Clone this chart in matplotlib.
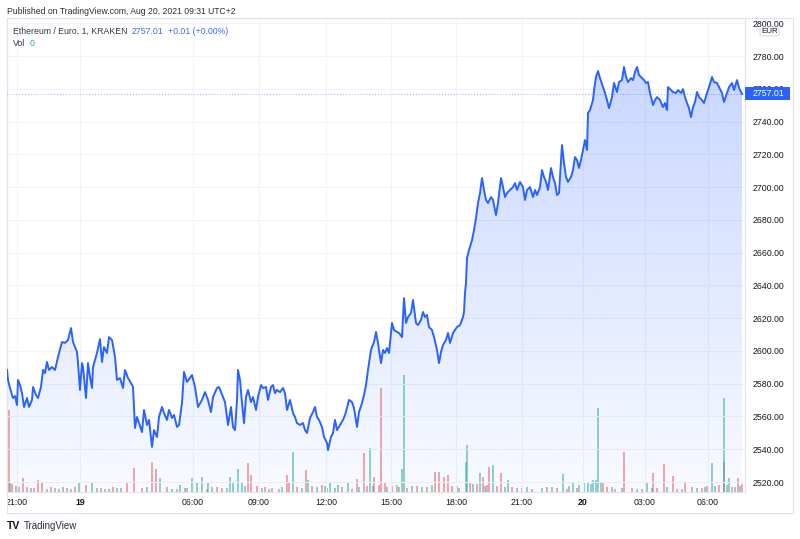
import numpy as np
import matplotlib
matplotlib.use("Agg")
import matplotlib.pyplot as plt
from matplotlib.colors import to_rgb
from matplotlib.patches import Rectangle, FancyBboxPatch
from matplotlib.transforms import Bbox

plt.rcParams['font.family'] = ['Liberation Sans', 'DejaVu Sans']

# 1-minute bars, x = bar number since the left edge of the chart
bars = [0, 1, 3, 5, 6, 8, 10, 11, 13, 15, 17, 20, 22, 25, 26, 29, 31, 34, 36, 38,
        40, 42, 45, 48, 51, 55, 58, 61, 64, 66, 70, 71, 73, 75, 76, 79, 81, 83, 85, 86,
        90, 93, 95, 97, 100, 102, 105, 108, 110, 113, 116, 118, 121, 124, 126, 128, 130, 132, 135, 137,
        140, 142, 145, 147, 150, 152, 155, 157, 160, 162, 165, 167, 170, 172, 175, 177, 180, 185, 188, 191,
        195, 198, 201, 204, 206, 210, 212, 216, 218, 221, 224, 226, 228, 230, 231, 233, 235, 237, 239, 241,
        244, 246, 249, 251, 254, 256, 259, 261, 264, 266, 268, 270, 273, 276, 278, 280, 283, 286, 288, 290,
        293, 296, 298, 300, 303, 306, 308, 310, 312, 315, 317, 320, 321, 324, 326, 328, 330, 333, 336, 338,
        340, 342, 345, 347, 350, 352, 355, 357, 359, 361, 364, 367, 369, 371, 374, 376, 378, 380, 382, 385,
        387, 390, 392, 395, 397, 399, 401, 404, 406, 409, 411, 414, 416, 418, 420, 422, 425, 427, 430, 432,
        434, 436, 439, 441, 443, 446, 448, 450, 453, 456, 457, 458, 459, 460, 462, 465, 467, 469, 471, 473,
        475, 477, 479, 481, 484, 486, 489, 491, 494, 496, 498, 500, 503, 506, 508, 510, 513, 516, 518, 520,
        523, 526, 528, 530, 533, 535, 537, 539, 541, 544, 546, 548, 550, 552, 555, 557, 559, 561, 564, 566,
        568, 570, 572, 574, 576, 578, 580, 581, 583, 586, 587, 589, 591, 593, 596, 598, 600, 602, 605, 607,
        610, 612, 615, 617, 619, 621, 624, 626, 628, 630, 632, 635, 637, 639, 641, 643, 646, 648, 650, 653,
        656, 658, 660, 661, 664, 666, 669, 671, 674, 676, 678, 680, 682, 684, 686, 688, 690, 692, 695, 697,
        700, 702, 705, 707, 710, 712, 715, 717, 720, 722, 725, 727, 730, 732, 735]
price = [2588.4, 2582.3, 2577.4, 2573.1, 2571.3, 2572.5, 2567.0, 2582.3, 2579.2, 2574.3,
         2565.8, 2571.3, 2565.8, 2570.1, 2578.0, 2573.1, 2571.3, 2578.0, 2588.4, 2586.5,
         2593.3, 2588.4, 2590.2, 2588.4, 2596.3, 2605.5, 2604.9, 2606.7, 2614.0, 2605.5,
         2599.4, 2592.6, 2576.2, 2592.6, 2590.2, 2571.3, 2592.6, 2584.1, 2577.4, 2590.2,
         2598.8, 2607.3, 2593.3, 2602.4, 2598.8, 2608.5, 2606.7, 2596.3, 2582.3, 2583.5,
         2577.4, 2588.4, 2583.5, 2580.4, 2578.0, 2553.0, 2559.7, 2556.0, 2550.5, 2564.0,
         2554.8, 2557.9, 2541.4, 2551.7, 2547.5, 2559.7, 2565.8, 2562.1, 2557.9, 2564.0,
         2559.1, 2560.9, 2553.6, 2554.8, 2568.2, 2587.2, 2581.1, 2585.3, 2578.0, 2565.8,
         2570.1, 2574.9, 2570.1, 2562.7, 2571.9, 2577.4, 2578.0, 2571.9, 2568.8, 2554.8,
         2565.8, 2553.6, 2551.7, 2570.1, 2588.4, 2582.3, 2568.2, 2556.0, 2571.9, 2576.2,
         2568.8, 2571.9, 2564.0, 2571.9, 2579.2, 2577.4, 2578.0, 2570.1, 2578.0, 2579.2,
         2574.3, 2576.2, 2574.9, 2577.4, 2574.3, 2564.0, 2570.1, 2562.1, 2559.7, 2556.0,
         2554.8, 2556.0, 2551.7, 2549.9, 2559.1, 2562.7, 2565.8, 2559.7, 2557.9, 2553.6,
         2547.5, 2543.8, 2539.5, 2547.5, 2549.9, 2557.9, 2551.7, 2554.8, 2557.9, 2560.9,
         2565.2, 2570.1, 2568.8, 2565.2, 2553.6, 2562.7, 2568.2, 2573.1, 2579.2, 2588.4,
         2600.6, 2605.5, 2611.6, 2604.9, 2592.6, 2600.6, 2598.8, 2601.8, 2598.8, 2617.1,
         2612.8, 2611.6, 2611.0, 2608.5, 2632.3, 2617.1, 2620.7, 2623.2, 2631.1, 2617.1,
         2615.8, 2618.9, 2623.8, 2620.7, 2622.0, 2614.6, 2612.8, 2608.5, 2600.6, 2592.6,
         2599.4, 2603.6, 2606.7, 2611.0, 2604.9, 2611.0, 2612.8, 2614.6, 2615.8, 2620.7,
         2623.8, 2635.4, 2641.5, 2656.8, 2661.6, 2667.7, 2673.8, 2681.2, 2690.3, 2696.4,
         2705.6, 2698.3, 2692.2, 2690.3, 2694.0, 2692.2, 2683.0, 2690.3, 2705.6, 2700.1,
         2694.0, 2696.4, 2698.3, 2700.1, 2702.5, 2698.3, 2703.2, 2700.1, 2692.2, 2698.3,
         2700.1, 2694.0, 2698.3, 2695.2, 2700.1, 2710.5, 2706.2, 2703.2, 2698.3, 2711.7,
         2706.2, 2702.5, 2695.2, 2696.4, 2725.7, 2714.7, 2706.2, 2703.2, 2706.2, 2710.5,
         2718.4, 2716.6, 2711.7, 2716.6, 2722.7, 2728.8, 2722.7, 2745.3, 2747.1, 2753.2,
         2759.3, 2767.3, 2770.9, 2766.6, 2761.1, 2757.5, 2753.2, 2748.3, 2755.0, 2763.6,
         2758.1, 2764.2, 2765.4, 2773.4, 2767.3, 2764.2, 2766.6, 2765.4, 2770.3, 2773.4,
         2768.5, 2766.6, 2765.4, 2763.6, 2764.2, 2757.5, 2750.2, 2753.2, 2755.0, 2753.2,
         2748.9, 2751.4, 2747.1, 2761.1, 2759.3, 2758.1, 2757.5, 2759.3, 2757.5, 2759.9,
         2755.0, 2751.4, 2748.3, 2742.8, 2748.9, 2752.0, 2758.1, 2755.0, 2753.2, 2751.4,
         2757.5, 2761.1, 2767.3, 2764.2, 2763.6, 2761.1, 2757.5, 2752.0, 2757.5, 2761.1,
         2763.6, 2759.3, 2765.4, 2760.6, 2757.01]
last_price = 2757.01

# volume (arbitrary units), split by candle direction: spikes first, then the low chatter
vol_down_bar = [2, 16, 31, 35, 79, 120, 127, 145, 149, 241, 244, 280, 282, 299, 315, 350, 357, 367,
                374, 378, 428, 432, 437, 441, 463, 476, 482, 494, 596, 617, 646, 657, 666, 678, 717, 731,
                5, 9, 20, 27, 44, 52, 60, 68, 90, 98, 106, 114, 135, 160, 170, 180, 200, 210, 215, 250,
                258, 265, 272, 290, 305, 320, 335, 345, 360, 372, 385, 392, 400, 410, 420, 445, 452, 470,
                480, 490, 505, 515, 525, 540, 550, 560, 570, 600, 608, 625, 635, 650, 670, 685, 695, 700,
                712, 725, 735]
vol_down = [82, 14, 12, 10, 7, 10, 24, 30, 23, 29, 17, 17, 10, 22, 7, 13, 39, 15,
            104, 10, 20, 20, 15, 17, 9, 15, 25, 19, 10, 40, 19, 28, 16, 10, 30, 14,
            8, 6, 5, 4, 5, 3, 4, 5, 4, 3, 5, 4, 4, 5, 3, 4, 3, 5, 4, 6,
            5, 4, 3, 5, 6, 4, 5, 3, 6, 7, 6, 5, 4, 6, 5, 6, 4, 8,
            7, 6, 5, 4, 3, 5, 4, 3, 4, 5, 3, 4, 3, 4, 3, 5, 4, 6,
            7, 5, 8]
vol_up_bar = [72, 85, 153, 173, 185, 190, 195, 201, 223, 226, 231, 235, 286, 301, 323, 331, 341, 363,
              395, 397, 459, 460, 473, 486, 501, 556, 566, 577, 581, 586, 589, 591, 640, 705, 717, 722,
              3, 12, 24, 40, 48, 56, 64, 94, 102, 110, 140, 165, 178, 205, 220, 238, 255, 262,
              275, 295, 310, 318, 328, 352, 366, 380, 390, 405, 415, 425, 450, 466, 478, 498, 510, 520,
              535, 545, 562, 572, 584, 594, 605, 615, 630, 645, 660, 675, 690, 698, 708, 720, 728, 733]
vol_up = [10, 9, 14, 7, 14, 10, 15, 9, 15, 10, 23, 10, 40, 12, 10, 7, 10, 44,
          23, 117, 30, 47, 19, 27, 12, 18, 10, 10, 10, 12, 12, 84, 9, 29, 94, 14,
          9, 5, 4, 3, 4, 5, 3, 4, 3, 4, 5, 3, 4, 5, 4, 6, 4, 3,
          5, 4, 5, 6, 4, 5, 6, 5, 7, 6, 5, 7, 6, 8, 6, 5, 4, 5,
          4, 5, 6, 7, 8, 9, 5, 4, 3, 4, 5, 3, 4, 5, 6, 7, 5, 6]

tick_bars = [10, 73, 186, 252, 319, 384, 449, 515, 576, 638, 701]
tick_labels = ['21:00', '19', '06:00', '09:00', '12:00', '15:00', '18:00', '21:00', '20', '03:00', '06:00']
price_ticks = list(range(2520, 2801, 20))

W, H = 800, 539
fig = plt.figure(figsize=(W / 100, H / 100), dpi=100)
fig.patch.set_facecolor('white')

L, R, T, B = 7, 745, 18, 492
rect = [L / W, 1 - B / H, (R - L) / W, (B - T) / H]
vax = fig.add_axes(rect, zorder=1)
ax = fig.add_axes(rect, zorder=2, sharex=vax)
ax.patch.set_visible(False)

line_col = '#2962ff'
grid_col = '#f0f3fa'
frame_col = '#e0e3eb'
txt_col = '#131722'

# volume pane
vax.bar(vol_down_bar, vol_down, width=1.1, color='#ef5350', alpha=0.5, linewidth=0)
vax.bar(vol_up_bar, vol_up, width=1.1, color='#26a69a', alpha=0.5, linewidth=0)
vax.set_ylim(0, 474)
vax.axis('off')

# price
ymin, ymax = 2513.9, 2803.3
ax.plot(bars, price, color=line_col, lw=1.4, zorder=4, solid_joinstyle='round')

grad = np.zeros((256, 1, 4))
grad[..., :3] = to_rgb(line_col)
grad[:, 0, 3] = np.linspace(0.28, 0.03, 256)
im = ax.imshow(grad, extent=[0, 738, ymin, ymax], aspect='auto', origin='upper', zorder=2)
area = ax.fill_between(bars, price, ymin, color='none', lw=0)
im.set_clip_path(area.get_paths()[0], transform=ax.transData)
ax.set_xlim(0, 738)
ax.set_ylim(ymin, ymax)

ax.axhline(last_price, color=line_col, alpha=0.55, lw=0.7, ls=(0, (1, 2)), zorder=3)

ax.set_xticks(tick_bars)
ax.set_xticklabels(tick_labels)
ax.set_yticks(price_ticks)
ax.set_yticklabels(['%.2f' % p for p in price_ticks])
ax.yaxis.tick_right()
ax.tick_params(axis='y', length=0, pad=5.5, labelsize=6.3, labelcolor=txt_col)
ax.tick_params(axis='x', length=0, pad=4.5, labelsize=6.3, labelcolor=txt_col)
for lab in ax.get_yticklabels():
    lab.set_horizontalalignment('left')
for lab in ax.get_xticklabels():
    if lab.get_text() in ('19', '20'):
        lab.set_fontweight('bold')
ax.grid(True, color=grid_col, lw=0.8, zorder=0)
ax.set_axisbelow(True)
for s in ax.spines.values():
    s.set_color(frame_col)
    s.set_linewidth(0.8)

# clip tick labels to the chart frame
clip = Bbox.from_extents(L + 1, H - 513, 793, H - T - 1)
for t in ax.xaxis.get_major_ticks() + ax.yaxis.get_major_ticks():
    for lab in (t.label1, t.label2):
        lab.set_clip_on(True)
        lab.set_clip_box(clip)

# outer frame of the chart widget
fig.patches.append(Rectangle((L, H - 513), 793 - L, 513 - T, transform=None,
                             fill=False, edgecolor=frame_col, lw=0.8))

def px(x, y):
    return x / W, 1 - y / H

fs = 6.3
fig.text(*px(7, 11), 'Published on TradingView.com, Aug 20, 2021 09:31 UTC+2',
         fontsize=6.2, color='#2a2e39', va='center')
fig.text(*px(13, 31), 'Ethereum / Euro, 1, KRAKEN', fontsize=fs, color='#333844', va='center')
fig.text(*px(132, 31), '2757.01', fontsize=fs, color='#3d6ce8', va='center')
fig.text(*px(168, 31), '+0.01 (+0.00%)', fontsize=fs, color='#3d6ce8', va='center')
fig.text(*px(13, 44), 'Vol', fontsize=fs, color='#333844', va='center')
fig.text(*px(30, 44), '0', fontsize=fs, color='#26a69a', va='center')

# last price tag
fig.patches.append(Rectangle((R, H - 100), 45, 13, transform=None,
                             facecolor=line_col, edgecolor='none', zorder=5))
fig.text(*px(753, 93.5), '%.2f' % last_price, fontsize=fs, color='white', va='center', zorder=6)

# currency badge
fig.patches.append(FancyBboxPatch((760, H - 36), 19, 9, boxstyle='round,pad=0,rounding_size=2',
                                  transform=None, facecolor='white', edgecolor='#d1d4dc',
                                  lw=0.6, zorder=5))
fig.text(*px(769.5, 31.5), 'EUR', fontsize=5.8, color=txt_col, ha='center', va='center', zorder=6)

# footer logo
fig.text(*px(7, 526), 'TV', fontsize=7.5, fontweight='bold', color=txt_col, va='center')
fig.text(*px(24, 526), 'TradingView', fontsize=7, color='#2a2e39', va='center')

fig.savefig('out.png', dpi=100, facecolor='white')
